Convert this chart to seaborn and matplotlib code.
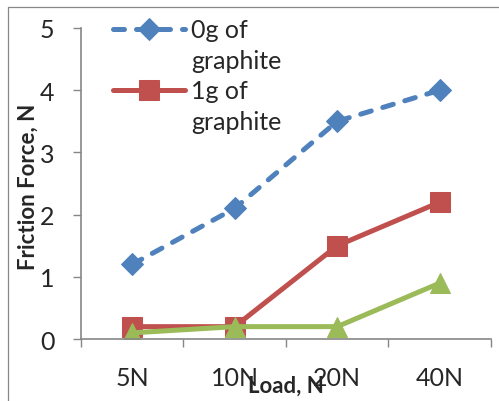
import numpy as np
import pandas as pd
import matplotlib.pyplot as plt
import seaborn as sns
from matplotlib.lines import Line2D

# data
loads = ['5N', '10N', '20N', '40N']
g0 = [1.2, 2.1, 3.5, 4.0]   # 0g of graphite
g1 = [0.2, 0.2, 1.5, 2.2]   # 1g of graphite
g2 = [0.1, 0.2, 0.2, 0.9]   # third series (not in visible legend)
labels = ['0g of', 'graphite', '1g of', 'graphite']

sns.set_style('ticks')
plt.rcParams['font.family'] = ['Lato', 'DejaVu Sans']

fig = plt.figure(figsize=(4.99, 4.02), dpi=100)
ax = fig.add_axes([0.162, 0.154, 0.822, 0.774])

blue, red, green = '#4F81BD', '#C0504D', '#9BBB59'

sns.lineplot(x=loads, y=g0, ax=ax, sort=False, color=blue, lw=3.6,
             marker='D', markersize=11, markeredgecolor=blue,
             dashes=(2.2, 2.4), dash_capstyle='round')
sns.lineplot(x=loads, y=g1, ax=ax, sort=False, color=red, lw=3.6,
             marker='s', markersize=14, markeredgecolor=red)
sns.lineplot(x=loads, y=g2, ax=ax, sort=False, color=green, lw=3.6,
             marker='^', markersize=15, markeredgecolor=green)

ax.set_ylim(0, 5)
ax.set_xlim(-0.5, 3.5)
ax.set_yticks(range(6))
ax.set_yticklabels([str(i) for i in range(6)], fontsize=18)
ax.set_xticks(np.arange(-0.5, 4, 1))
ax.set_xticklabels([''] * 5)
ax.set_xticks(range(4), labels=loads, minor=True)
ax.tick_params(axis='x', which='major', length=6, color='#868686', width=1)
ax.tick_params(axis='x', which='minor', length=0, pad=19.5, labelsize=18)
ax.tick_params(axis='y', length=6, color='#868686', width=1, pad=13)

sns.despine(ax=ax)
for s in ['left', 'bottom']:
    ax.spines[s].set_color('#868686')
    ax.spines[s].set_linewidth(1.2)

ax.set_xlabel('Load, N', fontsize=16, fontweight='bold', va='baseline')
ax.set_ylabel('Friction Force, N', fontsize=16, fontweight='bold')
ax.xaxis.set_label_coords(0.50, -0.170)
ax.yaxis.set_label_coords(-0.102, 0.492)

lines = ax.get_lines()
blank = Line2D([], [], linestyle='none')
ax.legend([lines[0], blank, lines[1], blank], labels,
          loc='upper left', bbox_to_anchor=(0.226, 0.952),
          bbox_transform=fig.transFigure, frameon=False, fontsize=18,
          handlelength=2.9, handletextpad=0.24, labelspacing=0.3,
          borderpad=0, borderaxespad=0)

# outer frame, partly cropped
fig.add_artist(Line2D([0.016, 1.0], [0.980, 0.980], color='#888888', lw=0.9))
fig.add_artist(Line2D([0.016, 0.016], [0.0, 0.980], color='#888888', lw=0.9))

fig.savefig('out.png', dpi=100)
